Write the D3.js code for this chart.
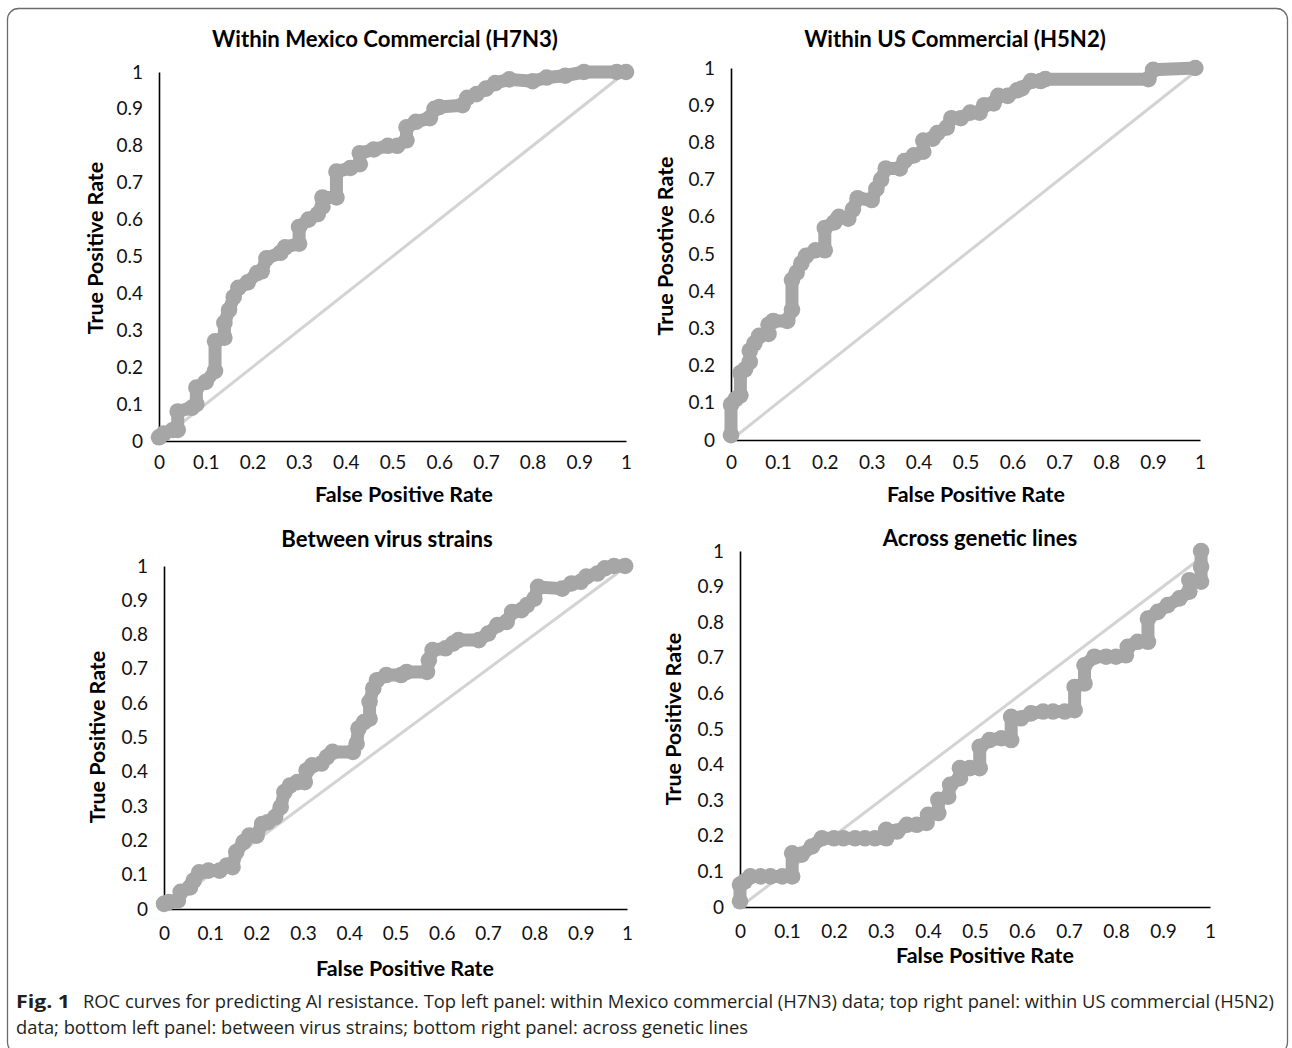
<!DOCTYPE html>
<html>
<head>
<meta charset="utf-8">
<script src="https://cdn.jsdelivr.net/npm/d3@7"></script>
<style>
  html, body { margin: 0; padding: 0; background: #fff; }
  svg { display: block; }
</style>
</head>
<body>
<svg id="chart" width="1292" height="1048"></svg>
<script>
// ---------------- DATA ----------------
const tickValues = [0, 0.1, 0.2, 0.3, 0.4, 0.5, 0.6, 0.7, 0.8, 0.9, 1];
const tickLabels = ["0", "0.1", "0.2", "0.3", "0.4", "0.5", "0.6", "0.7", "0.8", "0.9", "1"];

const panelTitles = ["Within Mexico Commercial (H7N3)", "Within US Commercial (H5N2)", "Between virus strains", "Across genetic lines"];
const yAxisTitles = ["True Positive Rate", "True Posotive Rate", "True Positive Rate", "True Positive Rate"];
const xAxisTitle = "False Positive Rate";

const mexicoFPR = [0,0.01,0.03,0.04,0.04,0.07,0.08,0.08,0.1,0.12,0.12,0.14,0.14,0.15,0.16,0.17,0.19,0.21,0.22,0.23,0.26,0.27,0.3,0.3,0.32,0.34,0.35,0.35,0.38,0.38,0.41,0.43,0.43,0.46,0.49,0.51,0.53,0.53,0.55,0.58,0.59,0.6,0.65,0.66,0.68,0.7,0.72,0.75,0.8,0.83,0.87,0.91,0.98,1.0];
const mexicoTPR = [0.01,0.02,0.03,0.03,0.08,0.09,0.1,0.145,0.16,0.19,0.27,0.28,0.32,0.355,0.39,0.415,0.43,0.455,0.46,0.495,0.51,0.525,0.535,0.58,0.6,0.615,0.635,0.66,0.66,0.73,0.74,0.75,0.78,0.79,0.8,0.8,0.815,0.85,0.865,0.875,0.9,0.905,0.91,0.93,0.94,0.955,0.97,0.98,0.975,0.985,0.99,1.0,1.0,1.0];

const usFPR = [0,0,0.01,0.02,0.02,0.03,0.04,0.04,0.05,0.06,0.08,0.08,0.09,0.12,0.13,0.13,0.14,0.15,0.16,0.18,0.2,0.2,0.22,0.23,0.25,0.26,0.27,0.3,0.31,0.32,0.33,0.36,0.37,0.39,0.41,0.41,0.43,0.44,0.46,0.47,0.49,0.51,0.53,0.54,0.56,0.57,0.59,0.61,0.62,0.64,0.66,0.67,0.89,0.9,0.99];
const usTPR = [0.013,0.095,0.11,0.12,0.18,0.19,0.21,0.24,0.26,0.28,0.285,0.31,0.32,0.32,0.35,0.43,0.45,0.475,0.495,0.51,0.51,0.57,0.585,0.6,0.595,0.62,0.65,0.645,0.675,0.7,0.73,0.73,0.75,0.765,0.775,0.805,0.81,0.825,0.84,0.865,0.865,0.88,0.88,0.9,0.905,0.925,0.925,0.94,0.945,0.965,0.965,0.97,0.97,0.995,1.0];

const strainsFPR = [0,0.01,0.03,0.036,0.056,0.064,0.076,0.096,0.12,0.136,0.148,0.156,0.172,0.184,0.2,0.212,0.224,0.24,0.252,0.26,0.272,0.288,0.304,0.308,0.32,0.34,0.352,0.364,0.408,0.416,0.42,0.432,0.444,0.444,0.452,0.46,0.48,0.512,0.524,0.568,0.572,0.58,0.608,0.624,0.636,0.68,0.7,0.72,0.74,0.752,0.772,0.784,0.8,0.808,0.86,0.88,0.9,0.912,0.936,0.952,0.972,0.996];
const strainsTPR = [0.015,0.02,0.025,0.05,0.063,0.083,0.107,0.112,0.112,0.127,0.122,0.166,0.195,0.214,0.214,0.248,0.253,0.268,0.297,0.341,0.36,0.37,0.37,0.404,0.419,0.424,0.443,0.458,0.458,0.482,0.526,0.545,0.555,0.604,0.643,0.667,0.682,0.682,0.691,0.691,0.725,0.755,0.76,0.774,0.784,0.784,0.803,0.828,0.837,0.866,0.871,0.886,0.905,0.939,0.934,0.949,0.954,0.969,0.978,0.993,1.0,1.0];

const geneticFPR = [0,0,0.01,0.022,0.044,0.065,0.09,0.111,0.111,0.131,0.153,0.174,0.2,0.22,0.245,0.266,0.287,0.311,0.311,0.334,0.355,0.376,0.397,0.4,0.422,0.422,0.443,0.447,0.468,0.468,0.489,0.51,0.51,0.531,0.556,0.577,0.577,0.598,0.619,0.645,0.666,0.691,0.712,0.712,0.733,0.733,0.754,0.779,0.8,0.821,0.825,0.846,0.868,0.868,0.889,0.91,0.935,0.956,0.956,0.981,0.981,0.981];
const geneticTPR = [0.016,0.063,0.072,0.086,0.086,0.086,0.086,0.086,0.151,0.147,0.17,0.193,0.193,0.193,0.193,0.193,0.193,0.193,0.217,0.212,0.231,0.231,0.236,0.259,0.264,0.301,0.31,0.343,0.362,0.39,0.39,0.39,0.45,0.469,0.474,0.469,0.534,0.53,0.544,0.549,0.549,0.549,0.553,0.618,0.628,0.679,0.703,0.703,0.703,0.707,0.731,0.745,0.745,0.81,0.829,0.848,0.867,0.886,0.918,0.914,0.956,1.0];

// reference (chance) diagonal end value per panel
const diagonalEnd = [1, 1, 1, 0.97];

const captionBold = "Fig. 1";
const captionLine1 = "ROC curves for predicting AI resistance. Top left panel: within Mexico commercial (H7N3) data; top right panel: within US commercial (H5N2)";
const captionLine2 = "data; bottom left panel: between virus strains; bottom right panel: across genetic lines";

// ---------------- LAYOUT ----------------
const series = [
  {fpr: mexicoFPR, tpr: mexicoTPR},
  {fpr: usFPR, tpr: usTPR},
  {fpr: strainsFPR, tpr: strainsTPR},
  {fpr: geneticFPR, tpr: geneticTPR}
];
const layout = [
  {x0: 159, x1: 626, y0: 441, y1: 72,  titleX: 385, titleY: 38,  xlabDy: 25, xTitleX: 404, xTitleY: 494, yTitleX: 95,  yTitleY: 248},
  {x0: 731, x1: 1200, y0: 440, y1: 68, titleX: 955, titleY: 38,  xlabDy: 26, xTitleX: 976, xTitleY: 494, yTitleX: 665, yTitleY: 246},
  {x0: 164, x1: 627, y0: 909, y1: 566, titleX: 387, titleY: 538, xlabDy: 28, xTitleX: 405, xTitleY: 968, yTitleX: 97,  yTitleY: 737},
  {x0: 740, x1: 1210, y0: 907, y1: 551, titleX: 980, titleY: 537, xlabDy: 28, xTitleX: 985, xTitleY: 955, yTitleX: 673, yTitleY: 719}
];

const FONT = "Lato, 'Open Sans', sans-serif";
const curveColor = "#a6a6a6";
const diagColor = "#d3d3d3";
const tickFont = 19;

const svg = d3.select("#chart");

// frame
svg.append("rect")
  .attr("x", 7.5).attr("y", 8.5)
  .attr("width", 1280).attr("height", 1045)
  .attr("rx", 11).attr("ry", 11)
  .attr("fill", "none").attr("stroke", "#6b6b6b").attr("stroke-width", 1.3);

function fitSize(sel, target, base) {
  const w = sel.node().getComputedTextLength();
  return base * target / w;
}

// measure font sizes
const probe = svg.append("text").attr("font-family", FONT).attr("font-weight", 700).attr("font-size", 20).text(panelTitles[0]);
const titleSize = fitSize(probe, 346, 20);
probe.text(xAxisTitle);
const axisTitleSize = fitSize(probe, 178, 20);
probe.remove();

layout.forEach((L, i) => {
  const x = d3.scaleLinear().domain([0, 1]).range([L.x0, L.x1]);
  const y = d3.scaleLinear().domain([0, 1]).range([L.y0, L.y1]);
  const g = svg.append("g");

  // axes
  const xAxis = d3.axisBottom(x).tickValues(tickValues).tickFormat((d, k) => tickLabels[k]).tickSize(0).tickSizeOuter(0).tickPadding(L.xlabDy - 10);
  const yAxis = d3.axisLeft(y).tickValues(tickValues).tickFormat((d, k) => tickLabels[k]).tickSize(0).tickSizeOuter(0).tickPadding(16);

  const gx = g.append("g").attr("transform", `translate(0,${L.y0})`).call(xAxis);
  const gy = g.append("g").attr("transform", `translate(${L.x0},0)`).call(yAxis);
  [gx, gy].forEach(a => {
    a.select(".domain").attr("stroke", "#000").attr("stroke-width", 1.6);
    a.selectAll("text").attr("font-family", FONT).attr("font-size", tickFont).attr("fill", "#111");
  });

  // diagonal
  const s = series[i];
  const de = diagonalEnd[i];
  g.append("line")
    .attr("x1", x(0)).attr("y1", y(0)).attr("x2", x(de)).attr("y2", y(de))
    .attr("stroke", diagColor).attr("stroke-width", 3);

  // ROC curve
  const pts = s.fpr.map((v, k) => [v, s.tpr[k]]);
  const line = d3.line().x(d => x(d[0])).y(d => y(d[1]));
  g.append("path").datum(pts)
    .attr("d", line)
    .attr("fill", "none").attr("stroke", curveColor).attr("stroke-width", 13)
    .attr("stroke-linejoin", "round").attr("stroke-linecap", "round");
  g.selectAll("circle.m").data(pts).enter().append("circle")
    .attr("cx", d => x(d[0])).attr("cy", d => y(d[1])).attr("r", 8.3)
    .attr("fill", curveColor);

  // titles
  g.append("text").attr("x", L.titleX).attr("y", L.titleY)
    .attr("text-anchor", "middle").attr("dominant-baseline", "central")
    .attr("font-family", FONT).attr("font-weight", 700).attr("font-size", titleSize)
    .attr("fill", "#000").text(panelTitles[i]);
  g.append("text").attr("x", L.xTitleX).attr("y", L.xTitleY)
    .attr("text-anchor", "middle").attr("dominant-baseline", "central")
    .attr("font-family", FONT).attr("font-weight", 700).attr("font-size", axisTitleSize)
    .attr("fill", "#000").text(xAxisTitle);
  g.append("text")
    .attr("transform", `translate(${L.yTitleX},${L.yTitleY}) rotate(-90)`)
    .attr("text-anchor", "middle").attr("dominant-baseline", "central")
    .attr("font-family", FONT).attr("font-weight", 700).attr("font-size", axisTitleSize)
    .attr("fill", "#000").text(yAxisTitles[i]);
});

// caption
const CAP = "'Open Sans', Lato, sans-serif";
svg.append("text").attr("x", 16).attr("y", 1008)
  .attr("font-family", CAP).attr("font-weight", 700).attr("font-size", 18)
  .attr("fill", "#231f20")
  .attr("textLength", 54).attr("lengthAdjust", "spacingAndGlyphs")
  .text(captionBold);
svg.append("text").attr("x", 83).attr("y", 1008)
  .attr("font-family", CAP).attr("font-weight", 400).attr("font-size", 18)
  .attr("fill", "#231f20")
  .attr("textLength", 1191).attr("lengthAdjust", "spacingAndGlyphs")
  .text(captionLine1);
svg.append("text").attr("x", 16).attr("y", 1034)
  .attr("font-family", CAP).attr("font-weight", 400).attr("font-size", 18)
  .attr("fill", "#231f20")
  .attr("textLength", 732).attr("lengthAdjust", "spacingAndGlyphs")
  .text(captionLine2);
</script>
</body>
</html>
